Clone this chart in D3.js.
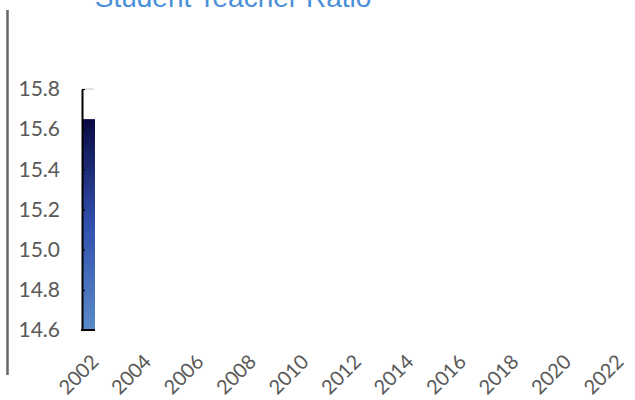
<!DOCTYPE html>
<html>
<head>
<meta charset="utf-8">
<script src="https://cdn.jsdelivr.net/npm/d3@7"></script>
<style>
  body { margin: 0; background: #fff; }
  svg { display: block; }
</style>
</head>
<body>
<svg id="chart" width="635" height="400"></svg>
<script>
// data
const years = [2002];
const ratios = [15.65];
const xTickYears = [2002, 2004, 2006, 2008, 2010, 2012, 2014, 2016, 2018, 2020, 2022];
const yTickValues = [14.6, 14.8, 15.0, 15.2, 15.4, 15.6, 15.8];
const title = "Student Teacher Ratio";

const svg = d3.select("#chart");

const x = d3.scaleLinear().domain([2002, 2022]).range([89, 614]);
const y = d3.scaleLinear().domain([14.6, 15.8]).range([330, 89]);

// gradient for bar
const grad = svg.append("defs").append("linearGradient")
  .attr("id", "barGrad")
  .attr("x1", 0).attr("y1", 1).attr("x2", 0).attr("y2", 0);
grad.append("stop").attr("offset", "0%").attr("stop-color", "#5a8ac8");
grad.append("stop").attr("offset", "50%").attr("stop-color", "#3150ae");
grad.append("stop").attr("offset", "100%").attr("stop-color", "#0a0a42");

// left frame line
svg.append("line")
  .attr("x1", 7.5).attr("x2", 7.5).attr("y1", 10).attr("y2", 375)
  .attr("stroke", "#666").attr("stroke-width", 2.5);

// title (cut off at the top, as in the original)
svg.append("text")
  .attr("x", 233).attr("y", 7)
  .attr("text-anchor", "middle")
  .attr("font-family", "Liberation Sans, Arial, sans-serif")
  .attr("font-size", 28)
  .attr("fill", "#4a90d9")
  .text(title);

// bars
const barW = 12;
svg.selectAll("rect.bar")
  .data(years)
  .enter()
  .append("rect")
  .attr("class", "bar")
  .attr("x", (d) => x(d) - barW / 2)
  .attr("width", barW)
  .attr("y", (d, i) => y(ratios[i]))
  .attr("height", (d, i) => y(14.6) - y(ratios[i]))
  .attr("fill", "url(#barGrad)");

// y axis
const yAxis = d3.axisLeft(y)
  .tickValues(yTickValues)
  .tickFormat(d3.format(".1f"))
  .tickSizeInner(-3)
  .tickSizeOuter(0)
  .tickPadding(22);

const gy = svg.append("g")
  .attr("transform", "translate(82,0)")
  .call(yAxis);
gy.select(".domain").attr("stroke", "#000").attr("stroke-width", 2);
gy.selectAll(".tick line").attr("stroke", "#000").attr("stroke-width", 1.2);
gy.selectAll(".tick text")
  .attr("font-family", "Lato, sans-serif")
  .attr("font-size", 21)
  .attr("fill", "#595959");

// faint extension at top tick
svg.append("line")
  .attr("x1", 85).attr("x2", 94).attr("y1", y(15.8)).attr("y2", y(15.8))
  .attr("stroke", "#ccc").attr("stroke-width", 1.2);

// short bottom line under the bar
svg.append("line")
  .attr("x1", 81).attr("x2", x(years[0]) + barW / 2).attr("y1", 330).attr("y2", 330)
  .attr("stroke", "#000").attr("stroke-width", 2);

// x labels, rotated
svg.append("g").selectAll("text")
  .data(xTickYears)
  .enter()
  .append("text")
  .attr("transform", (d) => `translate(${x(d) + 11},363) rotate(-45)`)
  .attr("text-anchor", "end")
  .attr("font-family", "Lato, sans-serif")
  .attr("font-size", 20)
  .attr("fill", "#595959")
  .text((d) => d);
</script>
</body>
</html>
